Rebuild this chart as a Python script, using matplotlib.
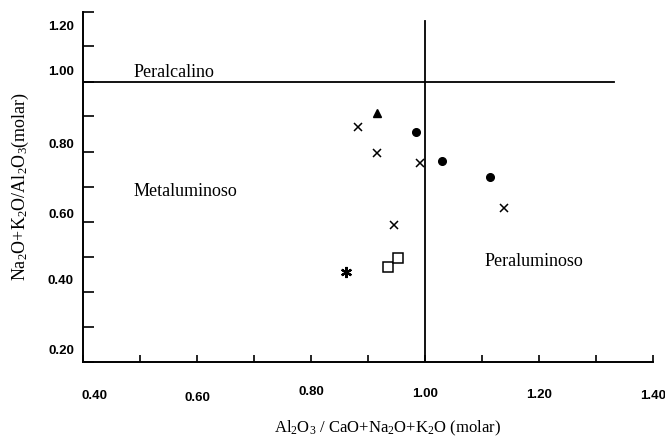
import matplotlib
matplotlib.use("Agg")
import matplotlib.pyplot as plt
import matplotlib.transforms as mtransforms
import numpy as np

plt.rcParams['mathtext.fontset'] = 'custom'
plt.rcParams['mathtext.rm'] = 'Liberation Serif'
plt.rcParams['mathtext.it'] = 'Liberation Serif:italic'

# samples (x = A/CNK, y = NK/A)
x_cross = [0.883, 0.915, 0.992, 1.139, 0.946]
y_cross = [0.871, 0.797, 0.768, 0.639, 0.589]

x_dot = [0.984, 1.029, 1.114]
y_dot = [0.857, 0.773, 0.727]

x_tri = [0.916]
y_tri = [0.911]

x_sq = [0.935, 0.952]
y_sq = [0.471, 0.495]

x_star = [0.861]
y_star = [0.457]

# field boundaries
limite_nka = [0.4, 1.332]   # NK/A = 1.0
limite_acnk = [0.2, 1.174]  # A/CNK = 1.0

xticks = [0.4, 0.6, 0.8, 1.0, 1.2, 1.4]
yticks = [0.2, 0.4, 0.6, 0.8, 1.0, 1.2]
xlabels = ['0.40', '0.60', '0.80', '1.00', '1.20', '1.40']
ylabels = ['0.20', '0.40', '0.60', '0.80', '1.00', '1.20']

fig = plt.figure(figsize=(6.65, 4.45), dpi=100)
ax = fig.add_axes([83 / 665, 83.5 / 445, 570 / 665, 350 / 445])
ax.set_xlim(0.4, 1.4)
ax.set_ylim(0.2, 1.2)

ax.plot(limite_nka, [1.0, 1.0], color='black', lw=1.3)
ax.plot([1.0, 1.0], limite_acnk, color='black', lw=1.3)

ax.plot(x_cross, y_cross, 'x', color='black', ms=6, mew=1.1)
ax.plot(x_dot, y_dot, 'o', color='black', ms=5.5)
ax.plot(x_tri, y_tri, '^', color='black', ms=5.5)
ax.plot(x_sq, y_sq, 's', mfc='white', mec='black', ms=7, mew=1.1)
ax.plot(x_star, y_star, marker=(6, 2, 0), color='black', ms=8, mew=1.6, ls='none')

serif = 'Liberation Serif'
ax.text(0.489, 1.025, 'Peralcalino', family=serif, fontsize=13, va='center')
ax.text(0.489, 0.685, 'Metaluminoso', family=serif, fontsize=13, va='center')
ax.text(1.105, 0.485, 'Peraluminoso', family=serif, fontsize=13, va='center')

ax.set_xlabel('Al$_2$O$_3$ / CaO+Na$_2$O+K$_2$O (molar)', family=serif, fontsize=12)
ax.xaxis.set_label_coords(0.535, -0.165)
ax.set_ylabel('Na$_2$O+K$_2$O/Al$_2$O$_3$(molar)', family=serif, fontsize=13, labelpad=12)

for s in ['top', 'right']:
    ax.spines[s].set_visible(False)
for s in ['left', 'bottom']:
    ax.spines[s].set_linewidth(1.4)

ax.set_xticks(xticks)
ax.set_xticklabels(xlabels, family='Liberation Sans', fontsize=9.5, weight='bold')
ax.set_xticks(np.arange(0.5, 1.4, 0.2), minor=True)
ax.set_yticks(yticks)
ax.set_yticklabels(ylabels, family='Liberation Sans', fontsize=9.5, weight='bold')
ax.set_yticks(np.arange(0.3, 1.2, 0.2), minor=True)

ax.tick_params(axis='x', which='both', direction='in', length=5, width=1.2, pad=20)
ax.tick_params(axis='y', which='both', direction='in', length=8, width=1.2, pad=6.5)

# the labels in the original scan sit a little off their ticks
dx_x = [12, 0, 0, 0, 0, 0]
dy_x = [-1, -3, 3, 1, 0, -1]
dy_y = [12.5, 11.5, 8, 8, 11, -13.5]
for lab, dx, dy in zip(ax.get_xticklabels(), dx_x, dy_x):
    lab.set_transform(lab.get_transform() + mtransforms.ScaledTranslation(dx / 100, dy / 100, fig.dpi_scale_trans))
for lab, dy in zip(ax.get_yticklabels(), dy_y):
    lab.set_transform(lab.get_transform() + mtransforms.ScaledTranslation(0, dy / 100, fig.dpi_scale_trans))

fig.savefig('out.png', dpi=100)
